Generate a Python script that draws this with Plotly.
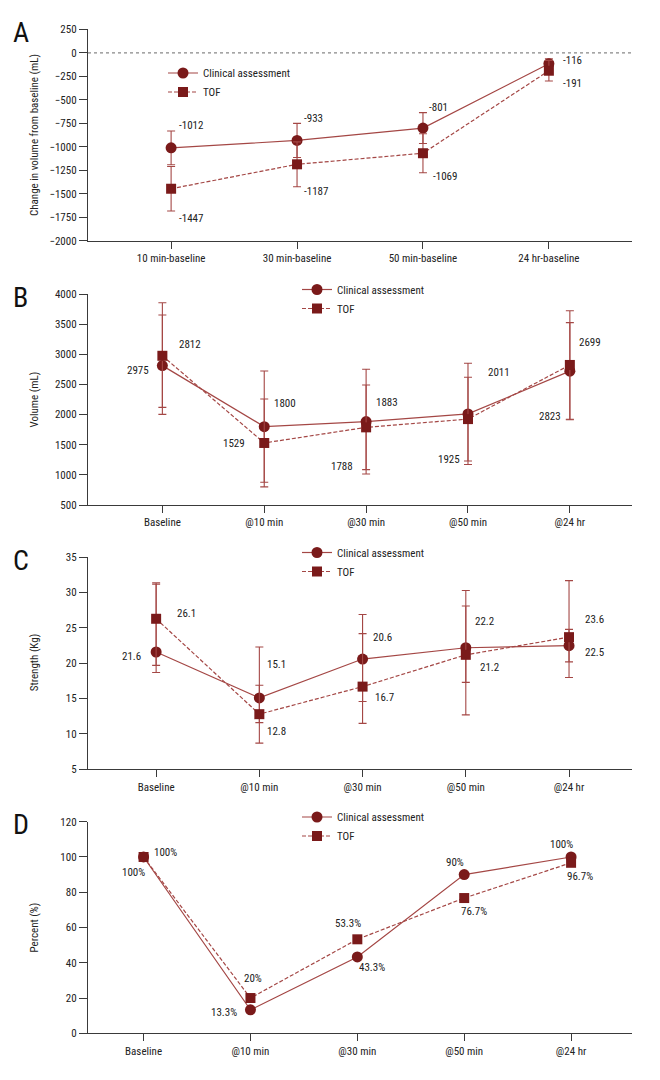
import plotly.graph_objects as go

# ---------------- data ----------------
cats_a = ["10 min-baseline", "30 min-baseline", "50 min-baseline", "24 hr-baseline"]
a_clin = [-1012, -933, -801, -116]
a_tof = [-1447, -1187, -1069, -191]
a_clin_up = [180, 182, 164, 52]
a_clin_dn = [180, 182, 164, 52]
a_tof_up = [237, 239, 208, 110]
a_tof_dn = [237, 239, 208, 110]
a_clin_lbl = ["-1012", "-933", "-801", "-116"]
a_tof_lbl = ["-1447", "-1187", "-1069", "-191"]

cats = ["Baseline", "@10 min", "@30 min", "@50 min", "@24 hr"]
b_clin = [2812, 1800, 1883, 2011, 2720]
b_tof = [2975, 1529, 1788, 1925, 2823]
b_clin_up = [840, 922, 868, 840, 805]
b_clin_dn = [808, 922, 868, 840, 805]
b_tof_up = [881, 729, 702, 694, 900]
b_tof_dn = [855, 729, 702, 694, 900]
b_clin_lbl = ["2812", "1800", "1883", "2011", "2699"]
b_tof_lbl = ["2975", "1529", "1788", "1925", "2823"]

c_clin = [21.6, 15.1, 20.6, 22.2, 22.5]
c_tof = [26.3, 12.8, 16.7, 21.2, 23.7]
c_clin_up = [9.6, 7.2, 6.3, 8.1, 2.3]
c_clin_dn = [2.9, 3.5, 6.0, 9.5, 2.3]
c_tof_up = [5.1, 4.1, 7.5, 6.9, 8.0]
c_tof_dn = [6.6, 4.1, 5.2, 3.9, 5.7]
c_clin_lbl = ["21.6", "15.1", "20.6", "22.2", "22.5"]
c_tof_lbl = ["26.1", "12.8", "16.7", "21.2", "23.6"]

d_clin = [100, 13.3, 43.3, 90, 100]
d_tof = [100, 20, 53.3, 76.7, 96.7]
d_clin_lbl = ["100%", "13.3%", "43.3%", "90%", "100%"]
d_tof_lbl = ["100%", "20%", "53.3%", "76.7%", "96.7%"]

y_titles = ["Change in volume from baseline (mL)", "Volume (mL)", "Strength (Kg)", "Percent (%)"]
letters = ["A", "B", "C", "D"]

# ---------------- styles ----------------
FONT = "Liberation Sans Narrow, Roboto Condensed, DejaVu Sans Condensed, Arial Narrow, sans-serif"
FS = 11
MARK = "#7a1a1a"
LINE = "#a44745"
AXIS = "#3a3a3a"
TXT = "#222222"

W, H = 660, 1080
X0, X1 = 88, 632
panels = [
    # (top px, bottom px, y range, x range)
    (29.3, 240.7, [-2000, 250], [-0.66, 3.66]),
    (294.0, 505.0, [500, 4000], [-0.73, 4.61]),
    (557.3, 769.3, [5, 35], [-0.66, 4.61]),
    (821.7, 1033.3, [0, 120], [-0.52, 4.57]),
]
dticks = [250, 500, 5, 20]
legend_pos = [(163, 82.5), (297, 299), (297, 562), (297, 826.5)]

fig = go.Figure()

series = [
    (cats_a, a_clin, a_tof, a_clin_up, a_clin_dn, a_tof_up, a_tof_dn),
    (cats, b_clin, b_tof, b_clin_up, b_clin_dn, b_tof_up, b_tof_dn),
    (cats, c_clin, c_tof, c_clin_up, c_clin_dn, c_tof_up, c_tof_dn),
    (cats, d_clin, d_tof, None, None, None, None),
]


def err(up, dn):
    if up is None:
        return None
    return dict(type="data", symmetric=False, array=up, arrayminus=dn,
                color=LINE, thickness=1.1, width=4)


for i, (cx, yc, yt, cu, cd, tu, td) in enumerate(series):
    n = "" if i == 0 else str(i + 1)
    xa, ya = "x" + n, "y" + n
    lg = "legend" + n
    fig.add_trace(go.Scatter(
        x=cx, y=yc, name="Clinical assessment", mode="lines+markers",
        line=dict(color=LINE, width=1.2, dash="solid"),
        marker=dict(symbol="circle", size=11, color=MARK),
        error_y=err(cu, cd), xaxis=xa, yaxis=ya, legend=lg, cliponaxis=False))
    fig.add_trace(go.Scatter(
        x=cx, y=yt, name="TOF", mode="lines+markers",
        line=dict(color=LINE, width=1.2, dash="4px,2px"),
        marker=dict(symbol="square", size=10, color=MARK),
        error_y=err(tu, td), xaxis=xa, yaxis=ya, legend=lg, cliponaxis=False))

layout = dict(width=W, height=H, margin=dict(l=0, r=0, t=0, b=0),
              paper_bgcolor="white", plot_bgcolor="white",
              font=dict(family=FONT, size=FS, color=TXT), template="none")

annotations = []
for i, (top, bot, yr, xr) in enumerate(panels):
    n = "" if i == 0 else str(i + 1)
    layout["xaxis" + n] = dict(
        domain=[X0 / W, X1 / W], range=xr, type="category", anchor="y" + n,
        showline=True, linecolor=AXIS, linewidth=1.3, ticks="outside",
        ticklen=7, tickcolor=AXIS, tickwidth=1.2, showgrid=False, zeroline=False,
        tickfont=dict(size=FS, family=FONT, color=TXT), automargin=False)
    layout["yaxis" + n] = dict(
        domain=[1 - bot / H, 1 - top / H], range=yr, anchor="x" + n,
        dtick=dticks[i], tick0=yr[0],
        showline=True, linecolor=AXIS, linewidth=1.3, ticks="outside",
        ticklen=8, tickcolor=AXIS, tickwidth=1.2, showgrid=False, zeroline=False,
        tickfont=dict(size=FS, family=FONT, color=TXT), automargin=False)
    lx, ly = legend_pos[i]
    layout["legend" + n] = dict(
        x=lx / W, y=1 - ly / H, xanchor="left", yanchor="middle",
        bgcolor="rgba(0,0,0,0)", font=dict(size=FS, family=FONT, color=TXT),
        tracegroupgap=0, itemwidth=30)
    annotations.append(dict(
        text=letters[i], xref="paper", yref="paper", x=21 / W, y=1 - (top + 3) / H,
        showarrow=False, font=dict(size=28, family=FONT, color="#111111"),
        xanchor="center", yanchor="middle"))
    annotations.append(dict(
        text=y_titles[i], xref="paper", yref="paper", x=34 / W, y=1 - (top + bot) / 2 / H,
        showarrow=False, textangle=-90, font=dict(size=FS, family=FONT, color=TXT),
        xanchor="center", yanchor="middle"))

# data labels: (panel index, x values, y values, labels, offsets [xanchor, xshift, yshift])
label_specs = [
    (0, cats_a, a_clin, a_clin_lbl,
     [("left", 6, 22), ("left", 5, 22), ("left", 4, 21), ("left", 12, 3)]),
    (0, cats_a, a_tof, a_tof_lbl,
     [("left", 6, -30), ("left", 5, -27), ("left", 8, -23), ("left", 12, -13)]),
    (1, cats, b_clin, b_clin_lbl,
     [("left", 15, 21), ("left", 8, 23), ("left", 8, 19), ("left", 18, 41), ("left", 7, 29)]),
    (1, cats, b_tof, b_tof_lbl,
     [("right", -11, -15), ("right", -17, -1), ("right", -11, -39), ("right", -6, -40), ("right", -7, -52)]),
    (2, cats, c_clin, c_clin_lbl,
     [("right", -13, -5), ("left", 6, 33), ("left", 8, 22), ("left", 7, 26), ("left", 14, -7)]),
    (2, cats, c_tof, c_tof_lbl,
     [("left", 19, 5), ("left", 6, -17), ("left", 10, -11), ("left", 12, -13), ("left", 14, 18)]),
    (3, cats, d_clin, d_clin_lbl,
     [("right", 3, -16), ("right", -11, -3), ("left", 0, -11), ("center", -9, 12), ("center", -10, 12)]),
    (3, cats, d_tof, d_tof_lbl,
     [("left", 8, 4), ("center", 3, 20), ("center", -9, 16), ("center", 10, -13), ("center", 9, -14)]),
]
for (pi, xs, ys, lbls, offs) in label_specs:
    n = "" if pi == 0 else str(pi + 1)
    for xv, yv, t, (anc, dx, dy) in zip(xs, ys, lbls, offs):
        annotations.append(dict(
            text=t, x=xv, y=yv, xref="x" + n, yref="y" + n, showarrow=False,
            xanchor=anc, yanchor="middle", xshift=dx, yshift=dy,
            font=dict(size=FS, family=FONT, color=TXT)))

layout["annotations"] = annotations
layout["shapes"] = [dict(type="line", xref="x domain", yref="y", x0=0, x1=1, y0=0, y1=0,
                         line=dict(color="#888888", width=1.2, dash="dot"))]
fig.update_layout(**layout)
fig.write_html("out.html", config={"displayModeBar": False},
               post_script="document.body.style.margin='0';document.body.style.padding='0';")
